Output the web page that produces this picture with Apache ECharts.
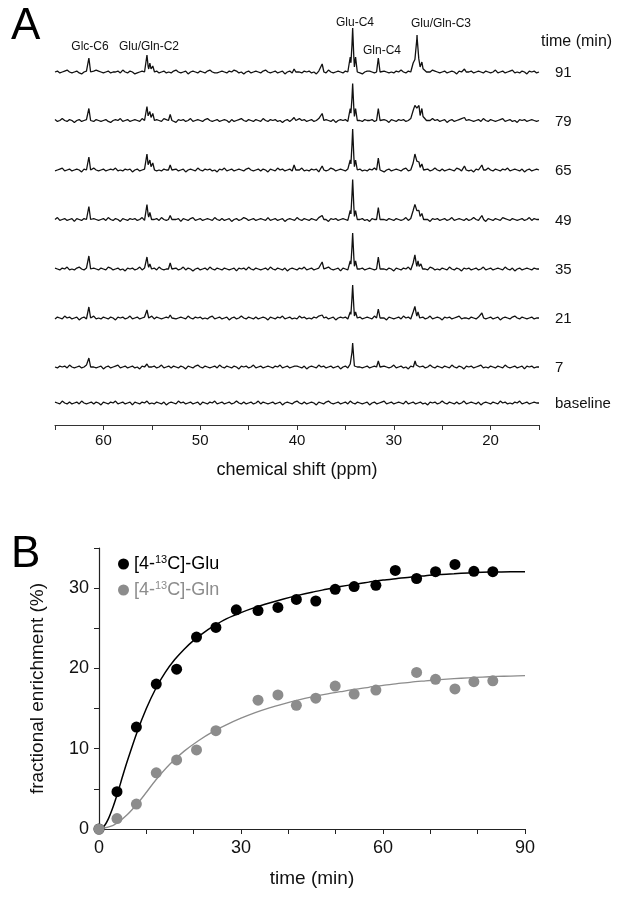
<!DOCTYPE html>
<html>
<head>
<meta charset="utf-8">
<script src="https://cdn.jsdelivr.net/npm/echarts@6/dist/echarts.min.js"></script>
<style>html,body{margin:0;padding:0;background:#fff}#c{width:624px;height:900px}</style>
</head>
<body>
<div id="c"></div>
<script>
// ---------- Panel A data: 13C NMR spectra ----------
const traceNames = ['91', '79', '65', '49', '35', '21', '7', 'baseline'];
const noise91 = [
  0,1,-1,0,1,2,0,-1,0,1,-1,-2,0,1,0,-1,1,2,1,0,
  -1,0,1,-1,0,0,1,-1,2,0,-1,1,0,-2,-1,0,1,0,1,-1,
  0,2,1,-1,0,1,-1,0,-1,1,2,0,-1,0,1,-2,0,1,0,-1,
  1,0,-1,1,2,0,-1,-1,0,1,0,-1,1,0,2,1,-1,0,-2,0,
  1,-1,0,1,0,-1,1,2,0,-1,0,1,-1,0,1,-2,0,1,-1,0,
  2,0,-1,1,0,1,-1,0,-2,1,0,1,-1,2,0,-1,0,1,0,-1,
  1,0,2,-1,0,1,-1,-2,0,1,1,0,-1,0,2,-1,1,0,-1,0,
  -1,1,0,2,0,-1,1,0,-1,0,1,-2,0,1,-1,0,2,1,0,-1,
  0,1,-1,0,1,0,-2,1,0,-1,2,0,1,-1,0,1,0,-1,1,0,
  -1,0,2,-1,0,1,-1,0,1,2,-1,0,-1,1,0,-2,1,0,1,-1,
  0];
const noise79 = [
  1,-1,0,2,0,-1,1,0,-2,0,1,-1,0,1,2,0,-1,1,0,-1,
  0,1,-1,-2,0,1,0,2,-1,0,1,-1,0,1,0,-1,2,0,-1,1,
  -1,0,1,0,-1,2,1,0,-1,0,-2,1,0,1,-1,0,2,-1,0,1,
  0,-1,1,2,0,-1,0,1,-1,0,1,0,-2,1,-1,0,1,2,0,-1,
  1,0,-1,1,0,-1,2,0,-1,1,0,1,-1,0,-2,0,1,-1,1,0,
  -1,2,0,1,-1,0,1,-1,0,2,-1,0,1,0,-1,1,-2,0,1,0,
  1,-1,0,1,2,-1,0,-1,1,0,0,1,-1,2,0,-1,1,0,-2,1,
  0,-1,1,0,1,-1,0,2,-1,0,1,0,-1,1,-1,0,2,0,1,-1,
  0,1,-2,0,1,-1,0,1,2,0,-1,1,0,-1,0,1,-1,2,0,-1,
  1,0,-1,0,1,2,-1,0,1,-1,0,-2,1,0,1,-1,0,1,0,-1,
  0];
const noise65 = [
  -1,0,1,2,-1,0,1,-1,0,1,0,-2,1,0,-1,1,2,0,-1,0,
  1,-1,0,1,0,2,-1,0,-1,1,0,1,-2,0,1,-1,0,1,2,-1,
  0,1,-1,0,-1,1,0,2,0,-1,1,-1,0,1,-2,0,1,0,-1,2,
  0,-1,1,0,1,-1,0,-2,1,0,2,-1,0,1,-1,0,1,0,-1,1,
  2,0,-1,0,1,-1,1,0,-2,1,0,-1,2,0,1,-1,0,1,-1,0,
  1,0,2,-1,0,-1,1,0,1,-2,0,1,-1,0,2,1,-1,0,1,0,
  -1,1,0,-1,2,0,1,-1,0,-1,1,0,2,-1,0,1,-2,0,1,-1,
  0,1,0,-1,1,2,-1,0,1,0,-1,-2,1,0,1,-1,0,2,0,-1,
  1,-1,0,1,0,-1,2,1,-1,0,1,-1,0,-2,1,0,1,-1,0,2,
  0,-1,1,0,-1,1,0,2,-1,0,1,0,-1,1,-2,0,1,-1,0,1,
  0];
const noise49 = [
  0,2,-1,0,1,-1,0,1,-2,1,0,-1,1,0,2,-1,1,0,-1,0,
  1,-1,2,0,-1,1,0,-2,1,0,-1,1,0,1,-1,0,2,-1,0,1,
  -1,0,1,-1,2,0,-1,1,0,-1,0,1,-2,1,0,-1,1,2,-1,0,
  1,-1,0,1,0,-1,2,0,-1,1,-1,0,1,-2,0,1,-1,0,2,1,
  -1,0,1,-1,0,1,0,-1,2,-1,0,1,-1,0,1,-2,0,1,0,-1,
  2,0,-1,1,0,-1,1,0,-1,2,1,-1,0,-2,1,0,1,-1,0,1,
  0,-1,2,0,1,-1,0,1,-1,0,-2,1,0,1,-1,2,0,-1,1,0,
  -1,1,0,-1,0,2,-1,1,0,-1,1,0,2,-1,0,-2,1,0,1,-1,
  0,1,-1,0,2,-1,0,1,0,-1,1,-1,0,2,0,-1,1,0,-2,1,
  0,-1,1,0,-1,2,1,0,-1,1,0,-1,0,1,-1,0,2,-1,1,0,
  0];
const noise35 = [
  1,0,-1,1,0,2,-1,0,-1,1,2,0,-1,1,-2,0,1,0,-1,1,
  0,-1,2,1,-1,0,1,-1,0,-2,1,0,1,-1,0,2,-1,1,0,-1,
  0,1,-1,2,0,-1,0,1,-1,0,1,-1,0,2,-1,1,0,-2,0,1,
  -1,0,1,-1,2,0,-1,1,0,-1,1,0,-1,0,1,-2,1,0,1,-1,
  2,0,-1,1,0,-1,0,1,-1,2,0,-1,1,0,-1,1,-2,0,1,0,
  -1,1,0,2,-1,0,1,-1,0,1,0,-1,1,2,0,-1,0,1,-2,1,
  0,-1,1,0,2,-1,0,1,-1,0,1,0,-1,1,-1,2,0,-1,1,0,
  -2,1,0,-1,1,0,2,-1,0,1,-1,0,1,0,-1,2,1,-1,0,-1,
  1,0,-1,2,0,-1,1,0,-2,1,0,1,-1,0,1,-1,0,2,-1,0,
  1,-1,0,1,0,-1,2,0,-1,1,-2,0,1,-1,0,1,0,-1,1,0,
  0];
const noise21 = [
  -1,1,0,-1,2,0,1,-1,0,1,-2,0,1,-1,1,0,2,-1,0,-1,
  1,0,-1,1,0,-2,1,0,1,-1,0,2,-1,0,1,-1,0,1,-1,0,
  2,-1,1,0,-1,0,1,-2,0,1,-1,0,1,0,-1,2,0,-1,1,0,
  1,-1,0,-1,1,2,-1,0,1,-1,0,1,-2,0,1,-1,0,2,0,-1,
  1,0,-1,1,-1,0,1,0,-2,1,0,-1,1,0,2,-1,0,1,-1,0,
  -1,2,0,1,-1,0,-1,1,0,2,-1,0,1,-1,0,1,-2,0,1,0,
  1,-1,0,2,0,-1,1,-1,0,1,0,-1,2,0,-1,1,0,-2,1,0,
  -1,0,1,-1,2,0,1,-1,0,-1,1,0,1,-1,0,2,-1,0,1,0,
  -2,1,0,1,-1,0,1,2,-1,0,0,-1,1,0,-1,1,0,2,-1,0,
  1,-1,0,1,-2,0,1,0,-1,1,2,0,-1,1,0,-1,0,1,-1,0,
  0];
const noise7 = [
  0,-1,1,0,1,-1,2,0,-1,0,1,-1,0,2,-1,1,0,-1,0,1,
  -2,0,1,-1,0,1,2,-1,0,1,-1,0,1,-1,0,-2,1,0,1,-1,
  0,1,-1,0,2,-1,0,1,-1,1,0,-1,1,0,-2,1,0,-1,1,2,
  0,-1,1,0,-1,0,1,-1,2,0,-1,1,0,-1,1,0,-2,1,0,1,
  -1,0,2,-1,0,1,-1,0,1,0,-1,1,0,2,-1,0,1,-1,0,1,
  1,0,-1,1,-2,0,1,0,-1,2,0,1,-1,0,1,-1,0,1,-2,0,
  1,-1,0,2,-1,1,0,-1,0,1,-1,0,1,2,0,-1,1,0,-1,0,
  2,-1,0,1,-1,0,-2,1,0,1,0,-1,1,-1,0,2,0,-1,1,0,
  -1,1,0,-1,2,0,-1,1,0,-2,1,0,1,-1,0,1,2,-1,0,-1,
  1,0,-1,1,0,-1,2,0,-1,0,1,-1,0,1,-2,1,0,1,-1,0,
  0];
const noiseBase = [
  1,0,-1,2,0,-1,1,-1,0,1,-1,2,0,-1,0,1,-1,1,0,-2,
  1,0,-1,1,0,2,-1,0,1,-1,0,1,-2,1,0,-1,1,0,2,-1,
  0,-1,1,0,-1,1,-2,0,1,0,-1,2,0,1,-1,0,1,-1,0,1,
  -2,1,0,-1,1,0,2,-1,0,1,-1,0,1,-1,0,2,0,-1,1,-1,
  0,1,-1,0,2,-1,1,0,-1,0,1,-1,0,1,-2,0,1,0,-1,1,
  2,0,-1,1,-1,0,1,0,-2,1,0,-1,1,2,0,-1,0,1,-1,0,
  1,-1,2,0,-1,1,0,-1,0,1,-2,0,1,-1,0,1,2,-1,0,1,
  -1,0,1,0,-1,2,-1,0,1,-1,0,1,-1,0,-2,1,0,1,-1,0,
  2,0,-1,1,0,-1,1,-1,0,2,-1,0,1,0,-1,1,-2,0,1,0,
  -1,1,0,-1,2,0,1,-1,0,-1,1,0,2,-1,0,1,-1,0,1,0,
  0];
// peaks: [ppm, height]
const peaks91 = [[61.5,14],[55.5,17],[55.2,9],[54.9,6],[40.3,3],[37.4,8],[34.5,15],[34.25,44],[33.95,15],[31.6,14],[28.0,9],[27.8,14],[27.6,37],[27.4,15],[27.1,10],[26.8,5],[22.7,3]];
const peaks79 = [[61.5,12],[55.5,14],[55.2,9],[54.9,7],[53.1,6],[40.3,3],[37.4,7],[34.5,12],[34.25,37],[33.95,12],[31.6,12],[28.0,10],[27.8,17],[27.6,14],[27.4,15],[27.1,12],[26.8,6],[22.7,3]];
const peaks65 = [[61.5,13],[55.5,16],[55.2,10],[54.9,7],[53.1,5],[40.3,5],[37.4,4],[34.5,10],[34.25,41],[33.95,10],[31.6,12],[28.0,7],[27.8,18],[27.6,10],[27.4,8],[27.1,6],[22.7,4],[20.9,5]];
const peaks49 = [[61.5,13],[55.5,15],[55.2,7],[53.1,4],[37.4,4],[34.5,9],[34.25,40],[33.95,9],[31.6,12],[28.0,9],[27.8,17],[27.6,10],[27.4,9],[27.1,6],[20.9,4]];
const peaks35 = [[61.5,13],[55.5,12],[55.2,5],[53.1,6],[37.4,7],[34.5,8],[34.25,36],[33.95,8],[31.6,12],[28.0,6],[27.8,16],[27.5,8],[27.2,5]];
const peaks21 = [[61.5,11],[55.5,8],[53.1,3],[37.4,3],[34.5,6],[34.25,33],[33.95,6],[31.6,9],[28.0,6],[27.8,13],[27.5,6],[20.9,5]];
const peaks7 = [[61.5,9],[55.5,3],[34.5,3],[34.25,24],[33.95,3],[31.6,6],[27.8,6],[27.5,3]];
const peaksBase = [];
const ppmTicks = [60, 50, 40, 30, 20];

// ---------- Panel B data: fractional enrichment ----------
const timeGlu = [0, 3.8, 7.9, 12.1, 16.4, 20.6, 24.7, 29.0, 33.6, 37.8, 41.7, 45.8, 49.9, 53.9, 58.5, 62.6, 67.1, 71.1, 75.2, 79.2, 83.2];
const valGlu  = [0, 4.65, 12.7, 18.05, 19.9, 23.9, 25.1, 27.3, 27.2, 27.6, 28.6, 28.4, 29.85, 30.2, 30.35, 32.2, 31.2, 32.05, 32.95, 32.1, 32.05];
const timeGln = [0, 3.8, 7.9, 12.1, 16.4, 20.6, 24.7, 33.6, 37.8, 41.7, 45.8, 49.9, 53.9, 58.5, 67.1, 71.1, 75.2, 79.2, 83.2];
const valGln  = [0, 1.3, 3.1, 7.0, 8.6, 9.85, 12.25, 16.05, 16.7, 15.4, 16.3, 17.8, 16.8, 17.3, 19.5, 18.65, 17.45, 18.35, 18.45];
const fitTimeGlu = [0, 1, 2, 3, 4, 5, 6, 8, 10, 12, 14, 16, 18, 20, 22, 24, 27, 30, 33, 36, 39, 42, 45, 48, 51, 54, 57, 60, 63, 66, 69, 72, 75, 78, 81, 84, 87, 90];
const fitGlu     = [0, 0.3, 1.3, 2.8, 4.6, 6.6, 8.5, 12.0, 15.0, 17.5, 19.5, 21.1, 22.4, 23.5, 24.4, 25.2, 26.2, 26.95, 27.6, 28.15, 28.65, 29.1, 29.5, 29.85, 30.2, 30.5, 30.75, 31.0, 31.2, 31.4, 31.55, 31.7, 31.8, 31.9, 31.97, 32.02, 32.05, 32.05];
const fitTimeGln = [0, 3, 6, 9, 12, 15, 18, 21, 24, 27, 30, 33, 36, 39, 42, 45, 48, 51, 54, 57, 60, 63, 66, 69, 72, 75, 78, 81, 84, 87, 90];
const fitGln     = [0, 0.45, 1.8, 3.8, 6.1, 8.1, 9.7, 11.0, 12.1, 13.0, 13.8, 14.5, 15.1, 15.6, 16.05, 16.45, 16.8, 17.1, 17.4, 17.65, 17.9, 18.1, 18.3, 18.45, 18.6, 18.72, 18.83, 18.92, 19.0, 19.05, 19.1];

// ---------- layout / style ----------
const FONT = 'Liberation Sans, Arial, sans-serif';
const traceOffsets = [353, 304.5, 255, 205.5, 156, 107, 58, 22]; // stacking offsets (plot units = px)
const noiseSets = [noise91, noise79, noise65, noise49, noise35, noise21, noise7, noiseBase];
const peakSets = [peaks91, peaks79, peaks65, peaks49, peaks35, peaks21, peaks7, peaksBase];
const PEAK_HALF = 0.18;
const NOISE_STEP = 0.25;
const NOISE_GAIN = 0.95;

function buildTrace(noiseArr, peakArr, base) {
  const xs = [];
  const noiseAt = {};
  for (let i = 0; i < noiseArr.length; i++) {
    const x = +(65 - NOISE_STEP * i).toFixed(3);
    if (x < 15) break;
    if (peakArr.some(p => Math.abs(p[0] - x) < PEAK_HALF + 0.02)) continue;
    xs.push(x); noiseAt[x] = noiseArr[i] * NOISE_GAIN;
  }
  peakArr.forEach(p => { xs.push(p[0] + PEAK_HALF, p[0], p[0] - PEAK_HALF); });
  const uniq = Array.from(new Set(xs.map(v => +v.toFixed(3)))).sort((a, b) => b - a);
  return uniq.map(x => {
    let y = base + (noiseAt[x] || 0);
    peakArr.forEach(p => {
      const d = Math.abs(x - p[0]);
      if (d < PEAK_HALF) y += p[1] * (1 - d / PEAK_HALF);
    });
    return [x, y];
  });
}

const zip = (a, b) => a.map((v, i) => [v, b[i]]);

const chart = echarts.init(document.getElementById('c'), null, {renderer: 'canvas'});

const seriesA = traceNames.map((name, k) => ({
  type: 'line',
  name: 'trace-' + name,
  xAxisIndex: 0, yAxisIndex: 0,
  data: buildTrace(noiseSets[k], peakSets[k], traceOffsets[k]),
  showSymbol: false,
  symbol: 'none',
  lineStyle: {color: '#111', width: 1.3},
  silent: true
}));

const legendRich = (color) => ({
  sup: {fontSize: 11, color: color, fontFamily: FONT, padding: [0, 0, 9, 0]},
  n: {fontSize: 18, color: color, fontFamily: FONT}
});

const baseGraphics = [
  {type: 'text', left: 11, top: 5, style: {text: 'A', fontSize: 44, fontFamily: FONT, fill: '#000'}},
  {type: 'text', left: 11, top: 533, style: {text: 'B', fontSize: 44, fontFamily: FONT, fill: '#000'}},
  {type: 'text', left: 541, top: 34, style: {text: 'time (min)', fontSize: 16, fontFamily: FONT, fill: '#111'}},
  {type: 'text', x: 90, y: 47, style: {text: 'Glc-C6', fontSize: 12, fontFamily: FONT, fill: '#111', align: 'center', verticalAlign: 'middle'}},
  {type: 'text', x: 149, y: 47, style: {text: 'Glu/Gln-C2', fontSize: 12, fontFamily: FONT, fill: '#111', align: 'center', verticalAlign: 'middle'}},
  {type: 'text', x: 355, y: 23, style: {text: 'Glu-C4', fontSize: 12, fontFamily: FONT, fill: '#111', align: 'center', verticalAlign: 'middle'}},
  {type: 'text', x: 382, y: 51, style: {text: 'Gln-C4', fontSize: 12, fontFamily: FONT, fill: '#111', align: 'center', verticalAlign: 'middle'}},
  {type: 'text', x: 441, y: 24, style: {text: 'Glu/Gln-C3', fontSize: 12, fontFamily: FONT, fill: '#111', align: 'center', verticalAlign: 'middle'}}
];

const option = {
  animation: false,
  backgroundColor: '#fff',
  grid: [
    {left: 55, right: 85, top: 10, height: 415},
    {left: 99, right: 99, top: 548, height: 281}
  ],
  xAxis: [
    {
      gridIndex: 0, type: 'value', inverse: true, min: 15, max: 65, interval: 5,
      axisLine: {lineStyle: {color: '#333', width: 1.2}},
      axisTick: {length: 5, lineStyle: {color: '#333'}},
      splitLine: {show: false},
      axisLabel: {formatter: v => (ppmTicks.includes(v) ? String(v) : ''), fontSize: 15, color: '#111', fontFamily: FONT, margin: 8},
      name: 'chemical shift (ppm)', nameLocation: 'middle', nameGap: 36,
      nameTextStyle: {fontSize: 18, color: '#111', fontFamily: FONT}
    },
    {
      gridIndex: 1, type: 'value', min: 0, max: 90, interval: 10,
      axisLine: {lineStyle: {color: '#222', width: 1.2}},
      axisTick: {length: 5, lineStyle: {color: '#222'}},
      splitLine: {show: false},
      axisLabel: {formatter: v => (v % 30 === 0 ? String(v) : ''), fontSize: 18, color: '#111', fontFamily: FONT, margin: 10},
      name: 'time (min)', nameLocation: 'middle', nameGap: 40,
      nameTextStyle: {fontSize: 19, color: '#111', fontFamily: FONT}
    }
  ],
  yAxis: [
    {gridIndex: 0, type: 'value', min: 0, max: 415, show: false},
    {
      gridIndex: 1, type: 'value', min: 0, max: 35, interval: 5,
      axisLine: {show: true, lineStyle: {color: '#222', width: 1.2}},
      axisTick: {show: true, length: 5, lineStyle: {color: '#222'}},
      splitLine: {show: false},
      axisLabel: {formatter: v => (v % 10 === 0 ? String(v) : ''), fontSize: 18, color: '#111', fontFamily: FONT, margin: 10},
      name: 'fractional enrichment (%)', nameLocation: 'middle', nameRotate: 90, nameGap: 52,
      nameTextStyle: {fontSize: 19, color: '#111', fontFamily: FONT}
    }
  ],
  legend: {
    orient: 'vertical', left: 113, top: 549, itemWidth: 11, itemHeight: 11, itemGap: 7,
    icon: 'circle',
    data: [
      {name: 'Glu', textStyle: {rich: legendRich('#000')}},
      {name: 'Gln', textStyle: {rich: legendRich('#8c8c8c')}}
    ],
    formatter: name => '{n|[4-}{sup|13}{n|C]-' + name + '}',
    textStyle: {fontSize: 18, fontFamily: FONT}
  },
  graphic: baseGraphics,
  series: seriesA.concat([
    {
      type: 'line', name: 'fitGlu', xAxisIndex: 1, yAxisIndex: 1,
      data: zip(fitTimeGlu, fitGlu), smooth: 0.25, showSymbol: false, symbol: 'none',
      lineStyle: {color: '#000', width: 1.5}, silent: true, z: 2
    },
    {
      type: 'line', name: 'fitGln', xAxisIndex: 1, yAxisIndex: 1,
      data: zip(fitTimeGln, fitGln), smooth: 0.25, showSymbol: false, symbol: 'none',
      lineStyle: {color: '#8c8c8c', width: 1.3}, silent: true, z: 2
    },
    {
      type: 'scatter', name: 'Glu', xAxisIndex: 1, yAxisIndex: 1,
      data: zip(timeGlu, valGlu), symbolSize: 11, itemStyle: {color: '#000', opacity: 1}, z: 3
    },
    {
      type: 'scatter', name: 'Gln', xAxisIndex: 1, yAxisIndex: 1,
      data: zip(timeGln, valGln), symbolSize: 11, itemStyle: {color: '#8c8c8c', opacity: 1}, z: 4
    }
  ])
};
chart.setOption(option);

// trace labels at the right end of each spectrum, placed through the axis scales
const traceLabels = traceNames.map((name, k) => {
  const pt = chart.convertToPixel({gridIndex: 0}, [15, traceOffsets[k]]);
  return {type: 'text', x: pt[0] + 16, y: pt[1] + 1, style: {text: name, fontSize: 15, fontFamily: FONT, fill: '#111', verticalAlign: 'middle'}};
});
chart.setOption({graphic: baseGraphics.concat(traceLabels)});
</script>
</body>
</html>
